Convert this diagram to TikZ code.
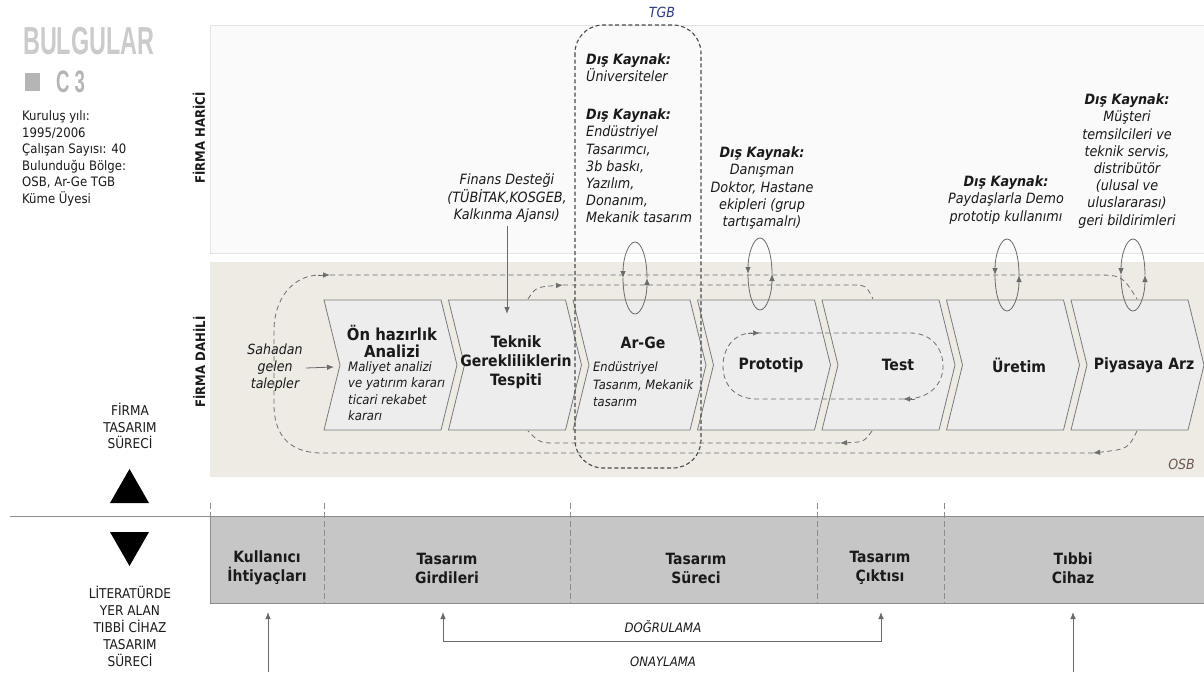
\documentclass[tikz,border=0pt]{standalone}
\usepackage{fontspec}
\setmainfont{DejaVu Sans Condensed}
\newfontfamily\narrowfont{Liberation Sans}[FakeStretch=0.6]
\usetikzlibrary{arrows.meta}
\definecolor{hbg}{HTML}{FAFAFA}
\definecolor{hline}{HTML}{E4E4E4}
\definecolor{dbg}{HTML}{EEEAE4}
\definecolor{chevfill}{HTML}{EDEDED}
\definecolor{chevdraw}{HTML}{7A7A7A}
\definecolor{dashc}{HTML}{6E6E6E}
\definecolor{tgbc}{HTML}{4A4A4A}
\definecolor{loopc}{HTML}{6A6A6A}
\definecolor{bandc}{HTML}{C6C6C6}
\definecolor{tgbblue}{HTML}{2B3A7E}
\definecolor{osbc}{HTML}{6B5B52}
\definecolor{titlegray}{HTML}{CBCBCB}
\definecolor{sqgray}{HTML}{B5B5B5}
\definecolor{txt}{HTML}{1A1A1A}
\tikzset{
  chevbox/.style={draw=chevdraw, fill=chevfill, line width=0.8pt, line join=miter},
  ttl/.style={font=\bfseries\fontsize{15.6}{18.8}\selectfont, align=center, inner sep=0, text=txt},
  bodyit/.style={font=\itshape\fontsize{13}{16.5}\selectfont, align=left, inner sep=0, text=txt},
  extxt/.style={font=\itshape\fontsize{14.2}{17.2}\selectfont, align=center, inner sep=0, text=txt},
  plain/.style={font=\fontsize{13.5}{16.8}\selectfont, align=center, inner sep=0, text=txt},
  cellt/.style={font=\bfseries\fontsize{15.5}{19}\selectfont, align=center, inner sep=0, text=txt},
  dashln/.style={draw=dashc, dash pattern=on 5pt off 3.5pt, line width=0.8pt},
  tgbln/.style={draw=tgbc, dash pattern=on 4pt off 2.6pt, line width=1.1pt},
  loopln/.style={draw=loopc, line width=0.8pt},
  solidln/.style={draw=loopc, line width=0.8pt},
  arrhead/.style={-{Latex[length=7pt,width=5.5pt]}},
  darrhead/.style={{Latex[length=7pt,width=5.5pt]}-{Latex[length=7pt,width=5.5pt]}},
}
\newcommand\mychev[1]{\draw[chevbox] (#1,300) -- ++(117,0) -- ++(16,65) -- ++(-16,65) -- ++(-117,0) -- ++(16,-65) -- cycle;}
\newcommand\fbloop[2]{%
  \draw[loopln, arrhead] (#1,#2-36) arc[start angle=270,end angle=180,x radius=12,y radius=36];
  \draw[loopln, arrhead] (#1-12,#2) arc[start angle=180,end angle=0,x radius=12,y radius=36];
  \draw[loopln] (#1+12,#2) arc[start angle=0,end angle=-90,x radius=12,y radius=36];}
\begin{document}
\begin{tikzpicture}[x=1pt,y=-1pt]
\useasboundingbox (0,0) rectangle (1204,672);
\fill[white] (0,0) rectangle (1204,672);
% regions
\filldraw[fill=hbg, draw=hline, line width=0.6pt] (210,25) rectangle (1206,253);
\fill[dbg] (210,262) rectangle (1206,477);
\node[rotate=90, font=\bfseries\fontsize{13}{13}\selectfont, text=txt] (harici) at (199,138) {FİRMA HARİCİ};
\node[rotate=90, font=\bfseries\fontsize{13}{13}\selectfont, text=txt] (dahili) at (199,362) {FİRMA DAHİLİ};
% left column
\node[anchor=west, inner sep=0, text=titlegray, font=\narrowfont\bfseries\fontsize{39}{39}\selectfont] (bulg) at (23,41) {BULGULAR};
\fill[sqgray] (25,73) rectangle (40,91);
\node[anchor=west, inner sep=0, text=sqgray, font=\narrowfont\bfseries\fontsize{31}{31}\selectfont] (c3) at (56,82) {C\hspace{5pt}3};
\node[anchor=west, font=\fontsize{13}{16.6}\selectfont, align=left, inner sep=0, text=txt] (info) at (22,158.5) {Kuruluş yılı:\\1995/2006\\Çalışan Sayısı: 40\\Bulunduğu Bölge:\\OSB, Ar-Ge TGB\\Küme Üyesi};
\node[plain] (firma) at (130,426) {FİRMA\\TASARIM\\SÜRECİ};
\fill[black] (110,503) -- (149,503) -- (129.5,469) -- cycle;
\fill[black] (110,532) -- (149,532) -- (129.5,566) -- cycle;
\node[plain] (lit) at (130,626.5) {LİTERATÜRDE\\YER ALAN\\TIBBİ CİHAZ\\TASARIM\\SÜRECİ};
% chevrons
\mychev{324}\mychev{448.5}\mychev{573}\mychev{697.5}\mychev{822}\mychev{946.5}\mychev{1071}
\node[ttl, font=\bfseries\fontsize{16.5}{17}\selectfont] (c1) at (392,341.5) {Ön hazırlık\\Analizi};
\node[bodyit, anchor=west] (c1b) at (348,391) {Maliyet analizi\\ve yatırım kararı\\ticari rekabet\\kararı};
\node[ttl] (c2) at (516,362) {Teknik\\Gerekliliklerin\\Tespiti};
\node[ttl] (c3t) at (643,343) {Ar-Ge};
\node[bodyit, anchor=west, font=\itshape\fontsize{12.8}{17.5}\selectfont] (c3b) at (593,384.5) {Endüstriyel\\Tasarım, Mekanik\\tasarım};
\node[ttl] (c4) at (771,365) {Prototip};
\node[ttl] (c5) at (898,365) {Test};
\node[ttl] (c6) at (1019,365) {Üretim};
\node[ttl] (c7) at (1144,365) {Piyasaya Arz};
% sahadan
\node[extxt, font=\itshape\fontsize{14}{17}\selectfont] (sah) at (275,368) {Sahadan\\gelen\\talepler};
\draw[solidln, arrhead] (sah.east) ++(3,0) coordinate (sahA) -- (334,367) coordinate (sahB);
% big loop
\draw[dashln, arrhead] (1137,431) .. controls (1128,449) .. (1093,453);
\draw[dashln] (1093,453) -- (322,453) .. controls (285,453) and (274,430) .. (274,405) -- (274,330) .. controls (274,300) and (292,275) .. (320,275);
\draw[dashln, arrhead] (318,275) -- (330,275);
\draw[dashln] (330,275) -- (1093,275) .. controls (1122,275) .. (1137,299);
% inner loop
\draw[dashln, arrhead] (528,299) .. controls (536,287) .. (563,285);
\draw[dashln] (563,285) -- (850,285) .. controls (866,285) .. (873,299);
\draw[dashln, arrhead] (872,431) .. controls (864,442) .. (840,443);
\draw[dashln] (840,443) -- (557,443) .. controls (540,443) .. (528,431);
% prototype-test loop
\draw[dashln] (757,333) -- (910,333) .. controls (933,333) and (943,350) .. (943,366) .. controls (943,384) and (930,399) .. (905,399) -- (757,399) .. controls (735,399) and (723,385) .. (723,366) .. controls (723,347) and (735,333) .. (752,333);
\draw[dashln, arrhead] (748,333) -- (760,333);
\draw[dashln, arrhead] (915,399) -- (903,399);
% TGB box
\draw[tgbln, rounded corners=28pt] (575,25) rectangle (701,468);
\node[font=\itshape\fontsize{14}{14}\selectfont, text=tgbblue, inner sep=0] (tgb) at (662,12) {TGB};
% external texts
\node[extxt, align=left, anchor=west] (tgb1) at (586,68) {\textbf{Dış Kaynak:}\\Üniversiteler};
\node[extxt, align=left, anchor=west] (tgb2) at (586,166) {\textbf{Dış Kaynak:}\\Endüstriyel\\Tasarımcı,\\3b baskı,\\Yazılım,\\Donanım,\\Mekanik tasarım};
\node[extxt] (fin) at (507,198) {Finans Desteği\\(TÜBİTAK,KOSGEB,\\Kalkınma Ajansı)};
\node[extxt] (ext4) at (762,188) {\textbf{Dış Kaynak:}\\Danışman\\Doktor, Hastane\\ekipleri (grup\\tartışamalrı)};
\node[extxt] (ext6) at (1006,200) {\textbf{Dış Kaynak:}\\Paydaşlarla Demo\\prototip kullanımı};
\node[extxt] (ext7) at (1127,161) {\textbf{Dış Kaynak:}\\Müşteri\\temsilcileri ve\\teknik servis,\\distribütör\\(ulusal ve\\uluslararası)\\geri bildirimleri};
\draw[solidln, arrhead] (fin.south) ++(0,4) coordinate (finA) -- (507,314) coordinate (finB);
% feedback loops
\fbloop{635}{278}
\fbloop{760}{274}
\fbloop{1007}{275}
\fbloop{1133}{275}
\node[font=\itshape\fontsize{14}{14}\selectfont, text=osbc, inner sep=0, anchor=east] (osb) at (1195,464) {OSB};
% bottom band
\draw[draw=black!45, line width=0.8pt] (10,516) -- (210,516);
\filldraw[fill=bandc, draw=black!45, line width=0.8pt] (210,516) -- (1206,516) -- (1206,603) -- (210,603) -- cycle;
\foreach \xx in {210,324,570,817,944} {\draw[black!45, line width=0.6pt, dash pattern=on 6pt off 3pt] (\xx,503) -- (\xx,603);}
\node[cellt] (b1) at (267,568) {Kullanıcı\\İhtiyaçları};
\node[cellt] (b2) at (447,568) {Tasarım\\Girdileri};
\node[cellt] (b3) at (696,568) {Tasarım\\Süreci};
\node[cellt] (b4) at (880,568) {Tasarım\\Çıktısı};
\node[cellt] (b5) at (1073,568) {Tıbbi\\Cihaz};
\coordinate (bb) at (0,612);
\coordinate (k0) at (268,672);
\coordinate (t0) at (1073,672);
\draw[solidln, arrhead] (k0) -- (k0 |- bb);
\draw[solidln, arrhead] (t0) -- (t0 |- bb);
\coordinate (dl) at (443,641);
\coordinate (dr) at (881,641);
\draw[solidln, darrhead] (dl |- bb) -- (dl) -- (dr) -- (dr |- bb);
\node[font=\itshape\fontsize{13}{13}\selectfont, text=txt, inner sep=0] (dog) at (663,627) {DOĞRULAMA};
\node[font=\itshape\fontsize{13}{13}\selectfont, text=txt, inner sep=0] (ona) at (663,662) {ONAYLAMA};
\end{tikzpicture}
\end{document}
